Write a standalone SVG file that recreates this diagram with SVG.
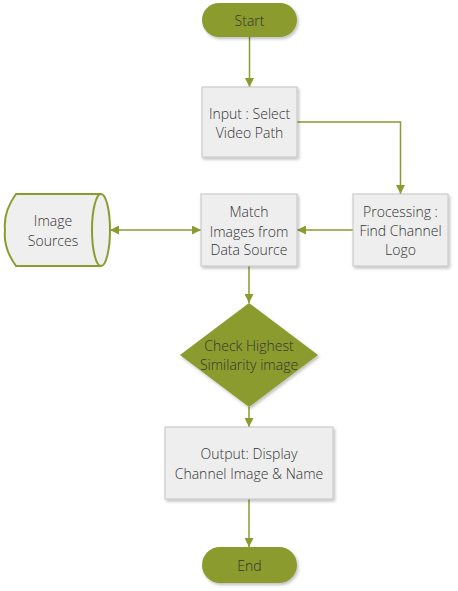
<svg xmlns="http://www.w3.org/2000/svg" width="458" height="591" viewBox="0 0 458 591">
<defs>
<style>
.t{font-family:"Open Sans","Noto Sans",sans-serif;font-weight:300;font-size:14px;fill:#333;text-anchor:middle;dominant-baseline:central}
.box{fill:#eeeeee;stroke:#c4c4c4;stroke-width:1;filter:url(#sh)}
.grn{fill:#8b9b2f;filter:url(#sh)}
.ln{fill:none;stroke:#8b9b2f;stroke-width:1.5}
</style>
<filter id="sh" x="-20%" y="-20%" width="150%" height="150%">
<feDropShadow dx="1.5" dy="2" stdDeviation="1.5" flood-color="#000" flood-opacity="0.25"/>
</filter>
<marker id="ah" viewBox="0 0 10 10" refX="10" refY="5" markerWidth="6" markerHeight="6" markerUnits="strokeWidth" orient="auto-start-reverse">
<path d="M0,0 L10,5 L0,10 z" fill="#8b9b2f"/>
</marker>
</defs>
<g id="connectors">
<line class="ln" x1="249.5" y1="37" x2="249.5" y2="87" marker-end="url(#ah)"/>
<polyline class="ln" points="297,122 400.5,122 400.5,194" marker-end="url(#ah)"/>
<line class="ln" x1="353" y1="230" x2="297" y2="230" marker-end="url(#ah)"/>
<line class="ln" x1="110" y1="230" x2="201" y2="230" marker-start="url(#ah)" marker-end="url(#ah)"/>
<line class="ln" x1="249" y1="266" x2="249" y2="303" marker-end="url(#ah)"/>
<line class="ln" x1="249" y1="407" x2="249" y2="427" marker-end="url(#ah)"/>
<line class="ln" x1="249" y1="499" x2="249" y2="547" marker-end="url(#ah)"/>
</g>
<g id="start">
<rect class="grn" x="202" y="3" width="95" height="34" rx="17"/>
<text class="t" x="249.5" y="20">Start</text>
</g>
<g id="input">
<rect class="box" x="202" y="87" width="95" height="70"/>
<text class="t" x="249.5" y="113">Input : Select</text>
<text class="t" x="249.5" y="132">Video Path</text>
</g>
<g id="processing">
<rect class="box" x="353" y="194" width="95" height="72"/>
<text class="t" x="400.5" y="211">Processing :</text>
<text class="t" x="400.5" y="230">Find Channel</text>
<text class="t" x="400.5" y="249">Logo</text>
</g>
<g id="match">
<rect class="box" x="201" y="194" width="96" height="72"/>
<text class="t" x="249" y="211">Match</text>
<text class="t" x="249" y="231">Images from</text>
<text class="t" x="249" y="249">Data Source</text>
</g>
<g id="imagesources">
<path d="M16,194 L101,194 A9,36 0 0 1 101,266 L16,266 Q3,248 5,230 Q3,212 16,194 Z" fill="#efefef" stroke="#8b9b2f" stroke-width="2"/>
<path d="M101,194 A9,36 0 0 0 101,266" fill="none" stroke="#8b9b2f" stroke-width="2"/>
<text class="t" x="53" y="220">Image</text>
<text class="t" x="53" y="240">Sources</text>
</g>
<g id="check">
<polygon class="grn" points="249,303 318,355 249,407 180,355"/>
<text class="t" x="249" y="345">Check Highest</text>
<text class="t" x="249" y="364">Similarity image</text>
</g>
<g id="output">
<rect class="box" x="165" y="427" width="168" height="72"/>
<text class="t" x="249" y="453">Output: Display</text>
<text class="t" x="249" y="473">Channel Image &amp; Name</text>
</g>
<g id="end">
<rect class="grn" x="202" y="547" width="95" height="36" rx="18"/>
<text class="t" x="249.5" y="565">End</text>
</g>
</svg>
